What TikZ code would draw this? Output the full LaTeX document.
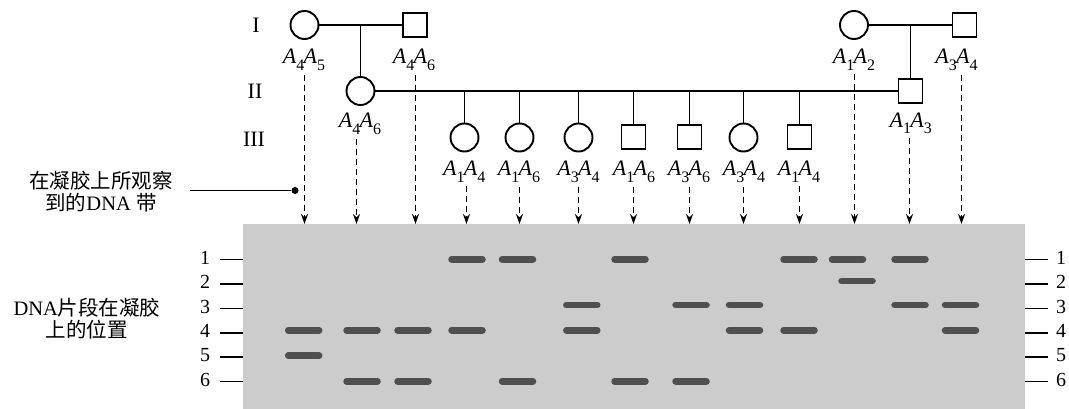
\documentclass[tikz,border=0pt]{standalone}
\usepackage{fontspec}
\setmainfont{Liberation Serif}
\newfontfamily\cjk{Noto Sans CJK SC}
\usetikzlibrary{arrows.meta}
\definecolor{gelgray}{HTML}{CCCCCC}
\definecolor{bandgray}{HTML}{4F4F4F}
% genotype label: italic A with upright subscripts
\newcommand\subn[1]{\raisebox{-0.28em}{\fontsize{16}{16}\selectfont #1}}
\newcommand\gtype[2]{\textit{A}\subn{#1}\kern-0.03em\textit{A}\subn{#2}}
\tikzset{
  fem/.style={circle, draw, line width=1.9pt, minimum size=28pt, inner sep=0pt},
  mal/.style={rectangle, draw, line width=1.9pt, minimum size=24pt, inner sep=0pt},
  rel/.style={line width=1.6pt},
  lbl/.style={font=\fontsize{22}{24}\selectfont, inner sep=0pt, anchor=base},
  gen/.style={font=\fontsize{22}{24}\selectfont, inner sep=0pt},
  probe/.style={line width=1.6pt, dash pattern=on 6pt off 4pt, -{Stealth[length=10pt,width=7pt]}},
  band/.style={draw=bandgray, line width=6.5pt, line cap=round},
  tickmark/.style={line width=1.6pt},
  num/.style={font=\fontsize{20}{22}\selectfont, inner sep=0pt},
  note/.style={font=\fontsize{20.5}{22}\selectfont, align=center, inner sep=0pt},
  gel/.style={fill=gelgray, draw=none, inner sep=0pt, anchor=north west},
  dot/.style={circle, fill, minimum size=7pt, inner sep=0pt}
}
\begin{document}
\begin{tikzpicture}[x=1pt, y=-1pt]
\useasboundingbox (0,0) rectangle (1069,409);

% gel slab
\node[gel, minimum width=782pt, minimum height=185pt] (gel) at (243,224) {};

% generation numerals
\node[gen] (g1) at (256,25) {I};
\node[gen] (g2) at (255,91) {II};
\node[gen] (g3) at (254,139) {III};

% generation I and II
\node[fem] (f1) at (304.5,25) {};
\node[mal] (m1) at (415,25) {};
\node[fem] (f2) at (360.5,91) {};
\node[fem] (f3) at (854,25) {};
\node[mal] (m3) at (964.5,25) {};
\node[mal] (m2) at (910.5,91) {};
\coordinate (j1) at (360.5,25);
\coordinate (j2) at (910.5,25);
\draw[rel] (f1) -- (m1);
\draw[rel] (j1) -- (f2);
\draw[rel] (f3) -- (m3);
\draw[rel] (j2) -- (m2);
\draw[rel] (f2) -- (m2);

% generation III
\node[fem] (c1) at (464.5,137.5) {};
\node[fem] (c2) at (519.5,137.5) {};
\node[fem] (c3) at (578.5,137.5) {};
\node[mal] (c4) at (633.5,137) {};
\node[mal] (c5) at (689.5,137) {};
\node[fem] (c6) at (743.5,137.5) {};
\node[mal] (c7) at (799.5,137) {};
\foreach \c in {c1,c2,c3,c4,c5,c6,c7}
  \draw[rel] (\c |- f2.east) -- (\c);

% genotypes
\node[lbl] (l1) at (304,64) {\gtype{4}{5}};
\node[lbl] (l3) at (414,64) {\gtype{4}{6}};
\node[lbl] (l2) at (360,128) {\gtype{4}{6}};
\node[lbl] (l11) at (854,64) {\gtype{1}{2}};
\node[lbl] (l13) at (956.5,64) {\gtype{3}{4}};
\node[lbl] (l12) at (910.8,127.5) {\gtype{1}{3}};
\node[lbl] (l4) at (464.3,176) {\gtype{1}{4}};
\node[lbl] (l5) at (519,176) {\gtype{1}{6}};
\node[lbl] (l6) at (578.5,176) {\gtype{3}{4}};
\node[lbl] (l7) at (634,176) {\gtype{1}{6}};
\node[lbl] (l8) at (689,176) {\gtype{3}{6}};
\node[lbl] (l9) at (744,176) {\gtype{3}{4}};
\node[lbl] (l10) at (799,176) {\gtype{1}{4}};

% probe arrows onto the gel
\foreach \k/\x in {1/304.5,2/356.5,3/415.5,4/466.5,5/519.5,6/578.5,7/633.5,8/689.5,9/743.5,10/799.5,11/854.5,12/909.5,13/961.5}
  \coordinate (t\k) at (\x,224);
\foreach \k in {1,...,13}
  \draw[probe] ([yshift=-4pt]l\k.south -| t\k) -- (t\k);

% position scale
\foreach \n/\y in {1/259.5,2/284,3/308.5,4/333,5/357,6/381.5}{
  \coordinate (pl\n) at (220,\y);
  \coordinate (pr\n) at (1048,\y);
  \draw[tickmark] (pl\n) -- (pl\n -| gel.west);
  \draw[tickmark] (pr\n -| gel.east) -- (pr\n);
  \node[num] (nl\n) at (205,\y-2) {\n};
  \node[num] (nr\n) at (1061,\y-2) {\n};
}

% bands (lane centre / row)
\foreach \x/\y in {
  303.7/330.3, 303.7/355.7,
  362/330.3, 362/381.3,
  413/330.3, 413/381.3,
  467/259.3, 467/330.3,
  517.5/259.3, 517.5/381.3,
  581.8/305, 581.8/330.3,
  630/259.3, 630/381.3,
  691/305, 691/381.3,
  744.5/305, 744.5/330.3,
  799/259.3, 799/330.3,
  847.5/259.3, 857/281,
  910/259.3, 910/305,
  960.5/305, 960.5/330.3}
  \draw[band] (\x-15.5,\y) -- (\x+15.5,\y);

% notes
\node[note] (ann1) at (101,192) {{\cjk 在凝胶上所观察}\\{\cjk 到的}DNA {\cjk 带}};
\node[dot] (dot) at (295,190.5) {};
\coordinate (annend) at (190,190.5);
\draw[rel] (annend) -- (dot);
\node[note] (ann2) at (87,319) {DNA{\cjk 片段在凝胶}\\{\cjk 上的位置}};
\end{tikzpicture}
\end{document}
